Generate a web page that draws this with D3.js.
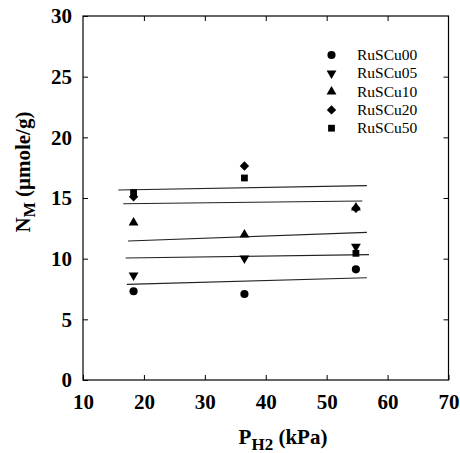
<!DOCTYPE html>
<html><head><meta charset="utf-8">
<script src="https://cdn.jsdelivr.net/npm/d3@7"></script>
<style>body{margin:0;background:#fff}svg{display:block}</style>
</head><body>
<svg id="c" width="460" height="453"></svg>
<script>
const xTicks = [10, 20, 30, 40, 50, 60, 70];
const yTicks = [0, 5, 10, 15, 20, 25, 30];
const seriesNames = ["RuSCu00", "RuSCu05", "RuSCu10", "RuSCu20", "RuSCu50"];
const pressures = [18.3, 36.5, 54.8];
const ruSCu00 = [7.31, 7.09, 9.12];
const ruSCu05 = [8.63, 10.03, 10.99];
const ruSCu10 = [12.97, 11.98, 14.2];
const ruSCu20 = [15.1, 17.64, 14.15];
const ruSCu50 = [15.44, 16.65, 10.44];
// fitted lines (start / end)
const fitX0 = [17.2, 17.0, 17.4, 16.6, 15.8];
const fitX1 = [56.6, 56.95, 56.6, 55.85, 56.6];
const fitY0 = [7.88, 10.05, 11.46, 14.53, 15.66];
const fitY1 = [8.43, 10.33, 12.17, 14.75, 16.02];

const seriesValues = [ruSCu00, ruSCu05, ruSCu10, ruSCu20, ruSCu50];

const svg = d3.select("#c");
const L = 83, R = 448.5, T = 16, B = 380;
const x = d3.scaleLinear().domain([10, 70]).range([L, R]);
const y = d3.scaleLinear().domain([0, 30]).range([B, T]);
const serif = "'Liberation Serif','Times New Roman',serif";

// frame
svg.append("rect").attr("x", L).attr("y", T).attr("width", R - L).attr("height", B - T)
  .attr("fill", "none").attr("stroke", "#000").attr("stroke-width", 1.2);

const tickLen = 5;
// bottom axis ticks + labels
const xAxisB = d3.axisBottom(x).tickValues(xTicks).tickSizeInner(-tickLen).tickSizeOuter(0).tickPadding(14);
const gxb = svg.append("g").attr("transform", `translate(0,${B})`).call(xAxisB);
gxb.select(".domain").remove();
gxb.selectAll("text").attr("font-family", serif).attr("font-weight", "bold").attr("font-size", 21).attr("fill", "#000");
gxb.selectAll("line").attr("stroke", "#000");
// top ticks
const gxt = svg.append("g").attr("transform", `translate(0,${T})`)
  .call(d3.axisTop(x).tickValues(xTicks.slice(1, -1)).tickSizeInner(-tickLen).tickSizeOuter(0).tickFormat(""));
gxt.select(".domain").remove();
gxt.selectAll("line").attr("stroke", "#000");
// left axis
const gyl = svg.append("g").attr("transform", `translate(${L},0)`)
  .call(d3.axisLeft(y).tickValues(yTicks).tickSizeInner(-tickLen).tickSizeOuter(0).tickPadding(11));
gyl.select(".domain").remove();
gyl.selectAll("text").attr("font-family", serif).attr("font-weight", "bold").attr("font-size", 21).attr("fill", "#000");
gyl.selectAll("line").attr("stroke", "#000");
// right ticks
const gyr = svg.append("g").attr("transform", `translate(${R},0)`)
  .call(d3.axisRight(y).tickValues(yTicks.slice(1, -1)).tickSizeInner(-tickLen).tickSizeOuter(0).tickFormat(""));
gyr.select(".domain").remove();
gyr.selectAll("line").attr("stroke", "#000");

// fit lines
const fits = fitX0.map((d, i) => ({x0: d, x1: fitX1[i], y0: fitY0[i], y1: fitY1[i]}));
svg.append("g").selectAll("line").data(fits).join("line")
  .attr("x1", d => x(d.x0)).attr("x2", d => x(d.x1))
  .attr("y1", d => y(d.y0)).attr("y2", d => y(d.y1))
  .attr("stroke", "#222").attr("stroke-width", 1.1);

// symbols
const symDefs = [
  {type: d3.symbolCircle, size: 52, rot: 0},
  {type: d3.symbolTriangle, size: 42, rot: 180},
  {type: d3.symbolTriangle, size: 42, rot: 0},
  {type: d3.symbolSquare, size: 44, rot: 45},
  {type: d3.symbolSquare, size: 46, rot: 0}
];
const pts = [];
seriesValues.forEach((vals, s) => vals.forEach((v, i) => pts.push({s, px: pressures[i], v})));
svg.append("g").selectAll("path").data(pts).join("path")
  .attr("d", d => d3.symbol().type(symDefs[d.s].type).size(symDefs[d.s].size)())
  .attr("transform", d => `translate(${x(d.px)},${y(d.v)}) rotate(${symDefs[d.s].rot})`)
  .attr("fill", "#000");

// legend
const lg = svg.append("g");
seriesNames.forEach((name, i) => {
  const cy = 55 + i * 18.3;
  lg.append("path")
    .attr("d", d3.symbol().type(symDefs[i].type).size(symDefs[i].size)())
    .attr("transform", `translate(331.5,${cy}) rotate(${symDefs[i].rot})`)
    .attr("fill", "#000");
  lg.append("text").attr("x", 357).attr("y", cy + 5)
    .attr("font-family", serif).attr("font-size", 15.5).attr("fill", "#000")
    .text(name);
});

// axis titles
const xt = svg.append("text").attr("x", 283).attr("y", 444).attr("text-anchor", "middle")
  .attr("font-family", serif).attr("font-weight", "bold").attr("font-size", 21).attr("fill", "#000");
xt.append("tspan").text("P");
xt.append("tspan").attr("font-size", 17).attr("dy", 6).text("H2");
xt.append("tspan").attr("dy", -6).text(" (kPa)");

const yt = svg.append("text").attr("transform", "translate(30,172) rotate(-90)").attr("text-anchor", "middle")
  .attr("font-family", serif).attr("font-weight", "bold").attr("font-size", 21).attr("fill", "#000");
yt.append("tspan").text("N");
yt.append("tspan").attr("font-size", 16).attr("dy", 5).text("M");
yt.append("tspan").attr("dy", -5).text(" (\u03bcmole/g)");
</script>
</body></html>
